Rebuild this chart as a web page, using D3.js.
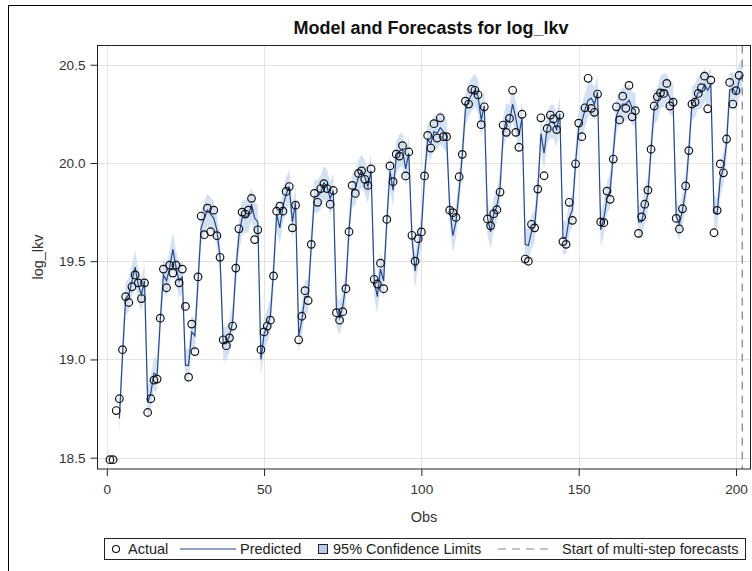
<!DOCTYPE html>
<html>
<head>
<meta charset="utf-8">
<script src="https://cdn.jsdelivr.net/npm/d3@7"></script>
<style>
  body { margin: 0; background: #fff; }
  text { font-family: "Liberation Sans", Arial, sans-serif; }
</style>
</head>
<body>
<svg width="752" height="571"></svg>
<script>
// observed values, obs 1..201
const actual = [
  18.49, 18.49, 18.74, 18.80, 19.05, 19.32, 19.29, 19.37, 19.43, 19.39, 19.31, 19.39,
  18.73, 18.80, 18.895, 18.90, 19.21, 19.46, 19.365, 19.48, 19.44, 19.48, 19.39, 19.46,
  19.27, 18.91, 19.18, 19.04, 19.42, 19.73, 19.635, 19.77, 19.65, 19.76, 19.63, 19.52,
  19.10, 19.07, 19.11, 19.17, 19.465, 19.665, 19.75, 19.74, 19.76, 19.82, 19.61, 19.66,
  19.05, 19.14, 19.17, 19.20, 19.425, 19.755, 19.78, 19.755, 19.855, 19.88, 19.67, 19.785,
  19.10, 19.22, 19.35, 19.30, 19.586, 19.845, 19.80, 19.87, 19.895, 19.87, 19.79, 19.86,
  19.238, 19.20, 19.243, 19.36, 19.65, 19.886, 19.845, 19.947, 19.96, 19.917, 19.886, 19.97,
  19.408, 19.384, 19.49, 19.36, 19.713, 19.985, 19.905, 20.045, 20.035, 20.088, 19.934, 20.056,
  19.632, 19.50, 19.615, 19.649, 19.934, 20.14, 20.076, 20.20, 20.127, 20.23, 20.134, 20.134,
  19.76, 19.747, 19.723, 19.93, 20.044, 20.315, 20.30, 20.375, 20.37, 20.347, 20.195, 20.286,
  19.715, 19.68, 19.742, 19.762, 19.852, 20.193, 20.156, 20.227, 20.37, 20.156, 20.08, 20.248,
  19.511, 19.50, 19.688, 19.67, 19.867, 20.23, 19.935, 20.176, 20.244, 20.224, 20.17, 20.244,
  19.60, 19.586, 19.80, 19.708, 19.996, 20.203, 20.134, 20.281, 20.431, 20.278, 20.258, 20.351,
  19.70, 19.696, 19.857, 19.815, 20.02, 20.286, 20.219, 20.34, 20.278, 20.395, 20.235, 20.266,
  19.642, 19.726, 19.79, 19.862, 20.07, 20.29, 20.337, 20.357, 20.354, 20.405, 20.29, 20.31,
  19.718, 19.664, 19.767, 19.883, 20.063, 20.30, 20.31, 20.354, 20.383, 20.442, 20.276, 20.422,
  19.645, 19.759, 19.995, 19.95, 20.122, 20.41, 20.30, 20.368, 20.446
];

// one-step-ahead predictions, obs 4..202 (202 is the first forecast)
const predStart = 4;
const predicted = [
  18.70, 19.02, 19.31, 19.33, 19.40, 19.47, 19.38, 19.33, 19.40,
  18.78, 18.83, 18.93, 18.92, 19.20, 19.43, 19.40, 19.47, 19.56, 19.47, 19.40, 19.42,
  18.97, 18.97, 19.14, 19.12, 19.40, 19.67, 19.72, 19.76, 19.74, 19.72, 19.66, 19.52,
  19.08, 19.08, 19.12, 19.19, 19.45, 19.63, 19.72, 19.73, 19.73, 19.79, 19.72, 19.70,
  19.00, 19.13, 19.17, 19.22, 19.45, 19.74, 19.67, 19.78, 19.84, 19.88, 19.70, 19.80,
  19.12, 19.20, 19.32, 19.32, 19.58, 19.83, 19.83, 19.85, 19.90, 19.88, 19.82, 19.86,
  19.25, 19.21, 19.27, 19.38, 19.66, 19.86, 19.87, 19.93, 19.96, 19.93, 19.88, 19.96,
  19.40, 19.32, 19.46, 19.40, 19.70, 19.96, 19.86, 20.03, 20.06, 20.07, 19.97, 20.05,
  19.62, 19.45, 19.56, 19.66, 19.93, 20.12, 20.10, 20.16, 20.15, 20.18, 20.16, 20.14,
  19.77, 19.63, 19.70, 19.86, 20.04, 20.27, 20.32, 20.35, 20.37, 20.34, 20.22, 20.29,
  19.72, 19.65, 19.74, 19.78, 19.87, 20.15, 20.22, 20.21, 20.30, 20.23, 20.14, 20.23,
  19.586, 19.58, 19.65, 19.68, 19.86, 20.15, 20.05, 20.18, 20.21, 20.21, 20.17, 20.25,
  19.62, 19.62, 19.72, 19.76, 20.00, 20.18, 20.21, 20.27, 20.32, 20.33, 20.30, 20.36,
  19.66, 19.72, 19.82, 19.86, 20.05, 20.24, 20.28, 20.30, 20.30, 20.32, 20.28, 20.27,
  19.70, 19.70, 19.78, 19.84, 20.07, 20.28, 20.30, 20.36, 20.37, 20.37, 20.33, 20.32,
  19.73, 19.69, 19.76, 19.86, 20.06, 20.30, 20.32, 20.36, 20.36, 20.40, 20.37, 20.40,
  19.75, 19.74, 19.92, 19.97, 20.10, 20.37, 20.38, 20.35, 20.42,
  20.45
];

// half width of the 95% band
const ciHalf = 0.085;
const forecastStart = 202;

const yTicks = [18.5, 19.0, 19.5, 20.0, 20.5];
const xTicks = [0, 50, 100, 150, 200];

const svg = d3.select("svg");

// plot frame in pixels
const pLeft = 97, pRight = 751, pTop = 45.5, pBottom = 469;

const x = d3.scaleLinear().domain([-3.11, 204.77]).range([pLeft, pRight]);
const y = d3.scaleLinear().domain([18.4425, 20.598]).range([pBottom, pTop]);

// outer graph border
svg.append("rect")
  .attr("x", 8.5).attr("y", 5.5)
  .attr("width", 800).attr("height", 600)
  .attr("fill", "none").attr("stroke", "#000");

svg.append("text")
  .attr("x", 431).attr("y", 34)
  .attr("text-anchor", "middle")
  .attr("fill", "#111")
  .style("font-size", "18px").style("font-weight", "bold")
  .text("Model and Forecasts for log_lkv");

svg.append("clipPath").attr("id", "plot")
  .append("rect").attr("x", pLeft).attr("y", pTop)
  .attr("width", pRight - pLeft).attr("height", pBottom - pTop);

// grid
const grid = svg.append("g").attr("stroke", "#e3e3e3").attr("stroke-width", 1);
grid.selectAll(".gx").data(xTicks).enter().append("line")
  .attr("x1", d => Math.round(x(d)) + 0.5).attr("x2", d => Math.round(x(d)) + 0.5)
  .attr("y1", pTop).attr("y2", pBottom);
grid.selectAll(".gy").data(yTicks).enter().append("line")
  .attr("y1", d => Math.round(y(d)) + 0.5).attr("y2", d => Math.round(y(d)) + 0.5)
  .attr("x1", pLeft).attr("x2", pRight);

const predData = predicted.map((v, i) => ({ obs: predStart + i, v: v }));
const actData = actual.map((v, i) => ({ obs: i + 1, v: v }));

const plot = svg.append("g").attr("clip-path", "url(#plot)");

plot.append("path")
  .datum(predData)
  .attr("fill", "#ccdcf0")
  .attr("fill-opacity", 0.85)
  .attr("d", d3.area()
    .x(d => x(d.obs))
    .y0(d => y(d.v - ciHalf))
    .y1(d => y(d.v + ciHalf)));

plot.append("path")
  .datum(predData)
  .attr("fill", "none")
  .attr("stroke", "#24488c")
  .attr("stroke-width", 1.2)
  .attr("d", d3.line().x(d => x(d.obs)).y(d => y(d.v)));

plot.append("line")
  .attr("x1", x(forecastStart)).attr("x2", x(forecastStart))
  .attr("y1", pTop).attr("y2", pBottom)
  .attr("stroke", "#8a8a8a").attr("stroke-width", 1.3)
  .attr("stroke-dasharray", "8,6");

plot.append("g")
  .selectAll("circle")
  .data(actData)
  .enter()
  .append("circle")
  .attr("cx", d => x(d.obs))
  .attr("cy", d => y(d.v))
  .attr("r", 3.8)
  .attr("fill", "none")
  .attr("stroke", "#111")
  .attr("stroke-width", 1.2);

svg.append("rect")
  .attr("x", pLeft + 0.5).attr("y", pTop)
  .attr("width", pRight - pLeft - 1).attr("height", pBottom - pTop)
  .attr("fill", "none").attr("stroke", "#222");

// axes
const yAxis = svg.append("g")
  .attr("transform", "translate(" + (pLeft + 0.5) + ",0)")
  .call(d3.axisLeft(y).tickValues(yTicks).tickFormat(d3.format(".1f")).tickSizeOuter(0).tickSize(7));
const xAxis = svg.append("g")
  .attr("transform", "translate(0," + pBottom + ")")
  .call(d3.axisBottom(x).tickValues(xTicks).tickSizeOuter(0).tickSize(7));

[yAxis, xAxis].forEach(a => {
  a.select(".domain").remove();
  a.selectAll(".tick line").attr("stroke", "#222");
  a.selectAll(".tick text")
    .attr("fill", "#333")
    .style("font-size", "13.6px")
    .style("font-family", "'Liberation Sans', Arial, sans-serif");
});
yAxis.selectAll(".tick text").attr("x", -12);
xAxis.selectAll(".tick text").attr("y", 15);

svg.append("text")
  .attr("x", 424).attr("y", 522)
  .attr("text-anchor", "middle")
  .attr("fill", "#333")
  .style("font-size", "14.5px")
  .text("Obs");

svg.append("text")
  .attr("transform", "translate(43,257) rotate(-90)")
  .attr("text-anchor", "middle")
  .attr("fill", "#333")
  .style("font-size", "14.5px")
  .text("log_lkv");

// legend
const lg = svg.append("g").style("font-size", "14.5px");
lg.append("rect")
  .attr("x", 104.5).attr("y", 538.5).attr("width", 641).attr("height", 21)
  .attr("fill", "#fff").attr("stroke", "#222");
const ly = 549;
lg.append("circle").attr("cx", 116).attr("cy", ly).attr("r", 3.5)
  .attr("fill", "none").attr("stroke", "#111").attr("stroke-width", 1.1);
lg.append("text").attr("x", 128).attr("y", ly + 5).attr("fill", "#222").text("Actual");
lg.append("line").attr("x1", 180).attr("x2", 236).attr("y1", ly).attr("y2", ly)
  .attr("stroke", "#24488c").attr("stroke-width", 1.2);
lg.append("text").attr("x", 240).attr("y", ly + 5).attr("fill", "#222").text("Predicted");
lg.append("rect").attr("x", 318.5).attr("y", ly - 4.5).attr("width", 9).attr("height", 9)
  .attr("fill", "#b8cce8").attr("stroke", "#222");
lg.append("text").attr("x", 333).attr("y", ly + 5).attr("fill", "#222").text("95% Confidence Limits");
lg.append("line").attr("x1", 498).attr("x2", 548).attr("y1", ly).attr("y2", ly)
  .attr("stroke", "#8a8a8a").attr("stroke-width", 1.2).attr("stroke-dasharray", "8,6");
lg.append("text").attr("x", 562).attr("y", ly + 5).attr("fill", "#222").text("Start of multi-step forecasts");
</script>
</body>
</html>
